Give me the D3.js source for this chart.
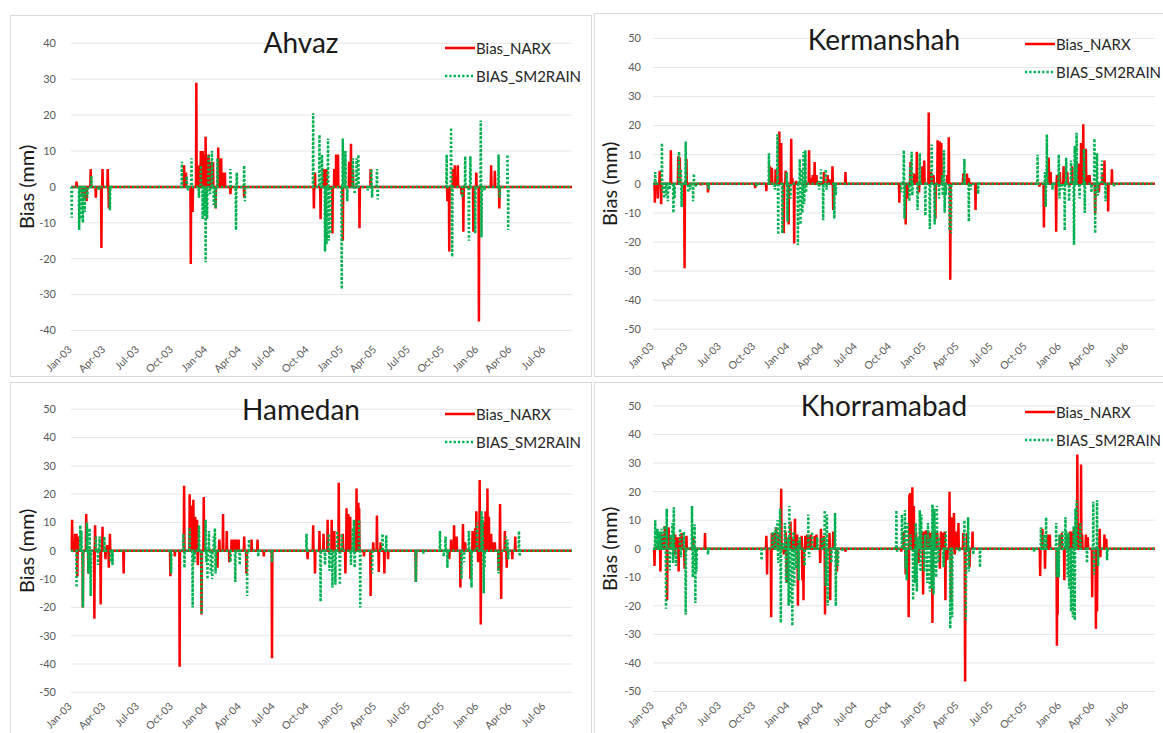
<!DOCTYPE html>
<html>
<head>
<meta charset="utf-8">
<script src="https://cdn.jsdelivr.net/npm/d3@7"></script>
<style>
  body { margin: 0; background: #fff; }
  text { font-family: Lato, "Open Sans", sans-serif; }
</style>
</head>
<body>
<svg id="chart" width="1163" height="733"></svg>
<script>
// daily bias series, stored as [day since 1 Jan 2003, bias in mm]; all other days are 0
var startDate = new Date(2003, 0, 1);
var nDays = 1352;
var seriesNames = ["Bias_NARX", "BIAS_SM2RAIN"];
var stations = ["Ahvaz", "Kermanshah", "Hamedan", "Khorramabad"];
var ticksAhvaz = [-40, -30, -20, -10, 0, 10, 20, 30, 40];
var ticksOther = [-50, -40, -30, -20, -10, 0, 10, 20, 30, 40, 50];

var ahvazNarx = [[15,1.5],[30,-2],[35,-3],[42,-4],[53,5],[67,-3],[82,-17],[85,5],[99,5],[102,-6],
  [305,6],[310,4],[323,-21.5],[328,-7],[338,29],[345,6],[350,10],[355,10],[360,9],[363,14],[367,8],[371,9],[377,7],[383,7],[390,-6],[397,11],[400,8],[405,8],[410,4],[415,4],[430,-2],[467,-3],
  [655,-6],[658,4],[673,-9],[681,5],[685,5],[689,5],[705,-13],[710,5],[715,9],[720,9],[733,-15],[750,7],[755,12],[760,5],[778,-11.5],[808,5],
  [1015,-4],[1020,-18],[1030,5],[1035,6],[1043,6],[1053,-2],[1058,-12.5],[1085,-12.5],[1093,4],[1100,-37.5],[1133,6],[1143,4.5],[1155,-6]];
var ahvazSm2rain = [[2,-8.6],[22,-12],[27,-9],[32,-10],[37,-7],[44,-3],[55,3],[75,-1],[105,-6.5],
  [299,7],[312,3],[315,-1],[325,8],[345,-3],[350,6],[355,-9],[360,-8],[363,-21],[367,-9],[371,9],[375,-2],[380,10],[385,-5],[390,-6],[395,8],[430,5],[445,-12],[447,4],[467,6],[469,-4],
  [653,20.5],[670,14.5],[677,9],[685,-18],[689,-16],[693,13.5],[695,-15],[700,-13],[730,-28.5],[733,13.5],[740,10],[745,-4],[760,8],[765,-2],[770,8],[775,9],[800,-1],[810,5],[812,-3],[825,5],[827,-3.5],
  [1013,9],[1025,16.5],[1028,-19.5],[1055,-3],[1063,8.5],[1073,-15],[1077,8.5],[1090,-13],[1105,18.5],[1107,-14],[1115,-1],[1153,9],[1156,-3],[1177,9],[1179,-12]];

var kermanshahNarx = [[5,-6.5],[13,-5],[18,4.5],[22,-7],[48,11.5],[68,9.5],[72,9],[85,-29],[90,8.5],[130,-0.5],[148,-3],
  [275,-1.5],[305,-2.5],[315,6],[320,5.5],[330,5],[340,18],[345,14],[352,-17],[357,4.5],[365,-14],[372,15.5],[375,2],[380,-20.5],[385,1],[420,11.5],[425,2],[430,3],[435,7.5],[440,3],[460,4],[470,3],[475,1.5],[483,6],[485,-9],[518,4],
  [663,-6.5],[680,-14],[685,-5],[693,7.5],[702,3.5],[706,3],[710,11],[716,-3],[725,6],[730,8],[742,24.5],[748,4],[755,3],[760,-12],[766,15],[772,14.5],[776,14],[792,3],[796,16],[800,-33],[835,3.5],[845,3.5],[850,2],[868,-9],
  [1040,-1],[1052,-15],[1065,9],[1070,4],[1085,-16.5],[1087,3],[1095,4],[1105,6],[1115,4],[1128,6],[1145,7],[1152,14],[1158,20.5],[1162,10],[1165,12],[1170,3],[1175,3],[1190,-10],[1200,-3],[1210,3.5],[1215,8],[1225,-9.5],[1235,5]];
var kermanshahSm2rain = [[6,4],[24,14],[26,-3],[30,-5],[35,-4],[40,-6],[45,-2],[55,-10],[58,-5],[70,11],[75,5],[77,-8],[88,14.5],[95,-3],[100,-2],[108,-6],[110,3.5],[115,-1],[150,-2],
  [278,-1],[312,10.5],[328,-2],[335,17],[337,-17.5],[348,-17],[360,4],[362,-13],[370,-5],[390,-21],[395,8.5],[397,-14],[400,5],[402,-10],[405,11],[407,-7],[410,11.5],[412,-3],[445,1],[447,-2],[452,5],[458,-12.5],[465,5],[467,-2],[488,-12],[492,-4],
  [668,-3],[675,11.5],[677,-12],[690,-6],[692,6],[696,11],[698,-4],[712,-9],[718,10.5],[733,-11],[745,-15.5],[750,13.5],[758,-14],[770,-5],[778,3],[780,-4],[783,11.5],[785,-10],[788,-4],[798,-16],[802,-17],[838,8.5],[850,-13],[855,-2],[875,-3.5],
  [1035,10],[1055,4],[1057,-8],[1060,17],[1075,-2],[1092,10],[1094,-5],[1100,-2],[1108,-16],[1112,9],[1120,-6],[1125,8],[1133,-21],[1135,13],[1140,17.5],[1148,-5],[1160,12],[1162,-10],[1180,-3],[1188,15.5],[1190,-17],[1195,10.5],[1197,-4],[1208,8],[1218,-6],[1240,-1]];

var hamedanNarx = [[3,11],[11,6],[15,6],[17,-9],[19,5],[32,-20],[41,13],[47,-8],[63,-24],[65,9],[80,-19],[85,8.5],[93,-3],[97,2],[102,-6],[105,6],[142,-8],
  [268,-9],[280,-2],[293,-41],[305,23],[320,20],[325,16],[330,18],[335,12],[340,11],[342,-5],[352,-22.5],[358,19],[395,-6],[400,4],[410,13],[420,7],[427,-4],[433,4],[440,4],[445,4],[452,4],[467,5],[473,-8],[487,4],[503,4],[520,-2],[542,-38],
  [638,-3],[653,9],[658,-8],[670,7],[681,6],[692,11],[703,11],[710,7],[722,24],[733,6],[740,-8],[743,15],[748,13],[753,12],[770,22],[775,17],[777,15],[790,-2],[808,-16],[815,3],[825,12.5],[830,-7.5],[835,3],[845,-8],[855,-3],
  [930,-11],[1020,-3],[1025,4],[1033,9],[1040,5],[1050,-13],[1057,9.5],[1063,3],[1077,-10],[1083,7],[1090,8],[1093,14],[1098,-4],[1102,25],[1105,-26],[1113,10],[1118,14],[1123,22],[1127,12],[1133,6],[1137,3],[1143,3],[1153,-7],[1157,16.5],[1160,-17],[1170,7],[1175,-6],[1190,-3],[1198,5]];
var hamedanSm2rain = [[15,-13],[25,9],[28,7],[32,-20],[43,10],[47,-8],[50,8],[53,-16],[67,5],[73,-5],[77,5],[90,5],[107,-4],[112,-5],
  [270,-8],[303,6],[306,-6],[320,8],[328,-20],[333,-4],[345,9],[352,-22.5],[363,11],[365,-4],[368,-10],[372,7],[377,-8],[381,-10],[385,5],[388,8],[390,-8],[430,-4],[443,-11],[455,-5],[475,-16],[480,4],[505,-2],[542,-4],
  [635,6],[673,-18],[685,-5],[695,6],[697,-7],[705,-13],[713,-12],[718,7],[725,-12],[730,6],[755,-5],[760,8],[763,11],[765,-6],[777,11],[780,-20],[812,-8],[840,6],[850,5.5],
  [930,-11],[950,-1],[995,7],[1005,-2],[1010,5],[1015,-6],[1053,-10],[1060,-4],[1073,7],[1080,-13],[1095,10],[1107,14],[1110,12],[1113,-15],[1115,-6],[1153,-8],[1173,5],[1177,4],[1179,-3],[1208,7],[1210,-2]];

var khorramabadNarx = [[4,-6],[15,2],[20,-8],[25,5],[32,8],[38,-18],[40,7.5],[42,7.5],[48,4],[58,-2],[60,5],[67,4],[69,-8],[71,4],[77,5.5],[80,3],[85,-7],[90,4.5],[108,4],[140,5.5],
  [305,4.5],[307,-9],[318,-24],[320,5.5],[325,5.5],[332,7.5],[340,5],[345,21],[352,-2],[357,6],[360,-12],[370,9.5],[375,3.5],[382,10.5],[388,5],[390,-20],[393,2.5],[400,4.5],[402,-11],[405,-18],[410,4.5],[415,5],[422,4.5],[425,5],[435,4.5],[440,5],[450,-5],[452,7],[460,4.5],[463,-23],[475,5.5],[477,-18],[485,6],[495,-8],[518,-1],
  [668,-1],[675,6],[680,-9],[688,-24],[690,19],[692,19.5],[698,21.5],[702,15],[708,5.5],[715,-5],[725,6],[727,-16],[729,6],[735,6.5],[742,6],[748,5.5],[752,-26],[760,6],[765,5.5],[772,-7],[775,6],[780,5.5],[785,6],[787,-18],[792,-4],[798,20],[802,-18],[804,11],[810,12.5],[812,-2],[815,6],[822,9],[835,5.5],[840,-46.5],[845,5.5],[852,-6.5],[860,6],
  [1042,-9.5],[1048,7],[1055,-7],[1062,5],[1068,5],[1087,-34],[1089,-23],[1095,4.5],[1100,5.5],[1107,-11],[1113,5],[1122,6],[1127,6],[1133,7],[1142,33],[1145,9],[1152,29.5],[1155,5],[1165,5],[1170,4],[1182,-17],[1192,-28],[1195,-22],[1202,7],[1204,-3],[1215,5],[1220,3.5]];
var khorramabadSm2rain = [[6,10],[8,3],[12,7],[18,6],[23,7],[30,8],[35,-21],[37,14],[45,-7.5],[47,5],[52,9],[54,-5],[56,14.5],[62,-6],[73,7],[75,-3],[83,6],[88,-23],[105,15],[107,-10],[112,8.5],[114,-19],[117,-8],[148,-2],
  [292,-4],[322,6],[330,7.5],[335,10],[337,-5],[342,14],[344,-26],[348,2],[355,9],[358,-12],[363,4],[365,-20],[367,15],[369,-19],[375,-27],[378,6],[380,-13],[385,-7],[390,3],[392,-11],[395,4],[408,-6],[418,12],[420,-3],[428,6],[442,4],[455,4],[462,13.5],[465,-13],[468,12],[470,-20],[480,-5],[490,12.5],[492,-20],[498,-6],[510,-1],
  [655,13.5],[657,-1],[670,12],[678,13.5],[680,-7],[683,-11],[685,9],[693,5],[700,-18],[705,-12],[707,9],[710,-15],[712,4],[718,13.5],[720,-8],[722,12],[730,-8],[732,5],[738,-12],[740,9],[745,-15],[747,4],[750,-14],[752,15.5],[755,-16],[757,14],[762,-10],[764,15],[768,-5],[770,4],[782,-6.5],[788,6],[800,-28],[805,-24],[825,-1],[838,10],[842,-25],[848,11],[850,-8],[862,-2],[880,-6.5],
  [1025,-1],[1044,7.5],[1052,5],[1058,11],[1085,9],[1087,-10],[1092,-10],[1094,5],[1102,6],[1110,11],[1112,6],[1116,-10],[1118,5.5],[1120,-14],[1125,-22],[1130,-24],[1132,8],[1135,-25],[1137,14],[1140,17],[1150,9],[1168,-5],[1185,16.5],[1187,-9],[1195,17],[1198,-6],[1222,-4]];

var narxData = [ahvazNarx, kermanshahNarx, hamedanNarx, khorramabadNarx];
var sm2rainData = [ahvazSm2rain, kermanshahSm2rain, hamedanSm2rain, khorramabadSm2rain];
var yTicks = [ticksAhvaz, ticksOther, ticksOther, ticksOther];

// panel layout in page pixels
var panels = [
  {fx: 10, fy: 15, fw: 582, fh: 362, left: 71, right: 572, top: 43.3, bottom: 330.5, labOff: 17, titleX: 301, titleY: 53, legX: 445, legY: 48, ylabX: 27, tickX: 56},
  {fx: 594, fy: 13, fw: 600, fh: 364, left: 653, right: 1155, top: 38.3, bottom: 329.3, labOff: 15, titleX: 884, titleY: 50, legX: 1025, legY: 44, ylabX: 610, tickX: 641},
  {fx: 10, fy: 382, fw: 582, fh: 380, left: 71, right: 572, top: 409.3, bottom: 692.3, labOff: 12, titleX: 301, titleY: 420, legX: 445, legY: 414, ylabX: 27, tickX: 56},
  {fx: 594, fy: 382, fw: 600, fh: 380, left: 653, right: 1155, top: 406, bottom: 691.5, labOff: 12, titleX: 884, titleY: 416, legX: 1025, legY: 412, ylabX: 610, tickX: 641}
];

var red = "#ff0000", green = "#00b050";
var svg = d3.select("#chart");
var fmt = d3.timeFormat("%b-%y");

function daily(events) {
  var vals = d3.range(nDays).map(function() { return 0; });
  events.forEach(function(e) { vals[e[0]] = e[1]; });
  return vals.map(function(v, d) { return {date: d3.timeDay.offset(startDate, d), value: v}; });
}

stations.forEach(function(name, i) {
  var P = panels[i];
  svg.append("clipPath").attr("id", "clip" + i)
    .append("rect").attr("x", P.fx).attr("y", P.fy).attr("width", P.fw).attr("height", P.fh);
  var g = svg.append("g").attr("clip-path", "url(#clip" + i + ")");

  g.append("rect")
    .attr("x", P.fx + 0.5).attr("y", P.fy + 0.5)
    .attr("width", P.fw - 1).attr("height", P.fh - 1)
    .attr("fill", "#fff").attr("stroke", "#d9d9d9");

  var x = d3.scaleTime()
    .domain([startDate, d3.timeDay.offset(startDate, nDays - 1)])
    .range([P.left, P.right]);
  var ticks = yTicks[i];
  var y = d3.scaleLinear()
    .domain([d3.min(ticks), d3.max(ticks)])
    .range([P.bottom, P.top]);

  // gridlines
  g.selectAll(".grid").data(ticks).enter().append("line")
    .attr("x1", P.left).attr("x2", P.right)
    .attr("y1", function(d) { return y(d); })
    .attr("y2", function(d) { return y(d); })
    .attr("stroke", "#e6e6e6").attr("stroke-width", 1);

  // y tick labels
  g.selectAll(".ylab").data(ticks).enter().append("text")
    .attr("x", P.tickX)
    .attr("y", function(d) { return y(d); })
    .attr("dy", "0.35em")
    .attr("text-anchor", "end")
    .attr("font-size", 11)
    .attr("fill", "#595959")
    .text(function(d) { return d; });

  // x tick labels, rotated
  var xt = x.ticks(d3.timeMonth.every(3));
  g.selectAll(".xlab").data(xt).enter().append("text")
    .attr("transform", function(d) {
      return "translate(" + (x(d) - 1) + "," + (P.bottom + P.labOff) + ") rotate(-45)";
    })
    .attr("dy", "0.35em")
    .attr("text-anchor", "end")
    .attr("font-size", 10.5)
    .attr("fill", "#595959")
    .text(function(d) { return fmt(d); });

  // axis title
  g.append("text")
    .attr("transform", "translate(" + P.ylabX + "," + ((P.top + P.bottom) / 2) + ") rotate(-90)")
    .attr("dy", "0.35em")
    .attr("text-anchor", "middle")
    .attr("font-size", 20)
    .attr("fill", "#1a1a1a")
    .text("Bias (mm)");

  // chart title
  g.append("text")
    .attr("x", P.titleX).attr("y", P.titleY)
    .attr("text-anchor", "middle")
    .attr("font-size", 28)
    .attr("fill", "#1a1a1a")
    .text(name);

  var line = d3.line()
    .x(function(d) { return x(d.date); })
    .y(function(d) { return y(d.value); });

  g.append("path")
    .datum(daily(narxData[i]))
    .attr("d", line)
    .attr("fill", "none")
    .attr("stroke", red)
    .attr("stroke-width", 2.5);

  g.append("path")
    .datum(daily(sm2rainData[i]))
    .attr("d", line)
    .attr("fill", "none")
    .attr("stroke", green)
    .attr("stroke-width", 2.5)
    .attr("stroke-dasharray", "2.3,2");

  // legend
  var styles = [{c: red, w: 2.5, dash: null}, {c: green, w: 2.5, dash: "2.3,2"}];
  seriesNames.forEach(function(s, k) {
    var ly = P.legY + k * 28;
    g.append("line")
      .attr("x1", P.legX).attr("x2", P.legX + 30)
      .attr("y1", ly).attr("y2", ly)
      .attr("stroke", styles[k].c)
      .attr("stroke-width", styles[k].w)
      .attr("stroke-dasharray", styles[k].dash);
    g.append("text")
      .attr("x", P.legX + 31).attr("y", ly + 5.5)
      .attr("font-size", 15)
      .attr("fill", "#262626")
      .text(s);
  });
});
</script>
</body>
</html>
